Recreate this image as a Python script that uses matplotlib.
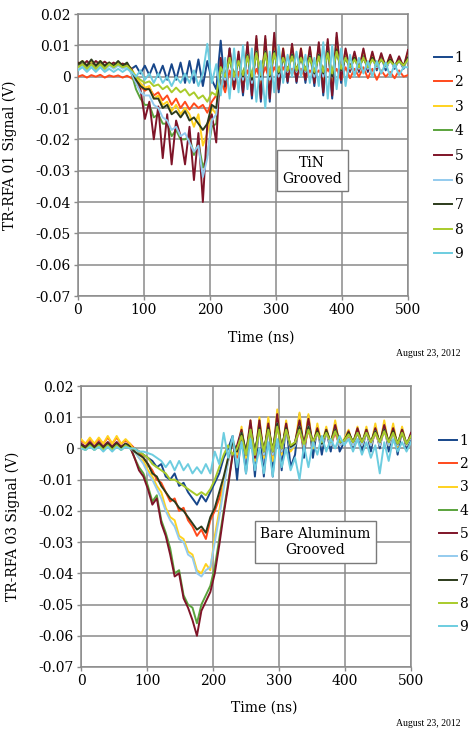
import numpy as np
import matplotlib
matplotlib.use("Agg")
import matplotlib.pyplot as plt

plt.rcParams['font.family'] = ['DejaVu Serif']

# Signals, in mV, evenly spaced over 0-500 ns
series_names = ["1", "2", "3", "4", "5", "6", "7", "8", "9"]
series_colors = ["#17468a", "#ff4a1c", "#ffd21f", "#5aa33c", "#7f1428",
                 "#94cbee", "#2c3b1b", "#a9cb2b", "#6dcde0"]

# TiN grooved (TR-RFA 01)
tin_1 = [3, 4.5, 3, 5, 3, 4.5, 3, 4.5, 3, 4, 3, 4,
         2.5, 3.5, 1, 3.5, 0.5, 4, 0, 3.5, -1, 4, -1, 4.5, -2, 5, -2, 5.5, -3, 5, -1, -4,
         11.5, -4, 9, -3, 7, -6, 10, -7, 12, -8, 12, -8, 12.5, -5, 8, -2, 9.5, -2, 8, -2,
         8.5, -3, 10, -6, 11, -7, 12.5, -2, 8, 1.5, 7, 1.5, 8, 1.5, 7, 2, 6.5, 2, 6, 2.5,
         5.5, 2.5, 7]
tin_2 = [0, 0.5, -0.3, 0.5, 0, 0.6, -0.3, 0.4, 0, 0.4, -0.3, 0.3,
         -0.5, -1.5, -3, -4.5, -3.5, -6, -5, -7.5, -6, -9, -7, -10, -8, -10.5, -8.5, -10,
         -9, -11.5, -8, -6,
         -1, -5, 2, -4, 1.5, -3, 2, -2, 2.5, -1, 3, -1, 3, 0, 3, 0, 2.5, 0, 2.5, -0.5, 2, 0,
         2, -0.5, 2.5, 0, 2.5, -1, 3, -0.5, 2.5, 0, 3, -0.5, 2.5, -1, 2, 0, 1.5, -0.5, 2, 0,
         0.5]
tin_3 = [4, 5, 3.5, 5, 3.5, 5, 3.5, 4.5, 3.5, 4.5, 3.5, 4,
         2.5, 0, -2, -3.5, -3, -7, -6, -9, -8, -11, -9, -12, -10, -12, -16, -12, -22, -18,
         -10, -12,
         4, -2, 8, -3, 7, -3, 10, -4, 12, -5, 12, -5, 12.5, -2, 9, 0, 10, 0, 9, 0, 9, -1,
         10, -3, 11, -4, 12.5, 0, 8.5, 2, 7.5, 2, 8.5, 2.5, 7.5, 2.5, 7, 3, 6.5, 3, 6, 3, 8]
tin_4 = [3, 4, 2.5, 4, 2.5, 4, 2.5, 4, 3, 4, 3, 4,
         1, -4, -7, -9, -9, -13, -12, -15, -15, -19, -17, -20, -20, -19, -25, -21, -29, -25,
         -16, -15,
         2, 0, 6, 0, 5, 0, 7, -1, 8, 0, 8, 0, 8, 1, 6, 2, 7, 2, 6, 2, 7, 1, 7, 1, 8, 0.5, 9,
         2.5, 6, 3, 6, 3, 6.5, 3, 6, 3.5, 6, 3.5, 5.5, 3.5, 5.5, 3.5, 6]
tin_5 = [4.5, 3.5, 5, 3.5, 5, 3.8, 4.8, 3.6, 4.5, 3.5, 4.2, 3.5,
         2.5, -2, -4, -13.5, -8, -20, -9.5, -26, -12, -28, -14, -19, -28, -16, -33, -18, -40,
         -15, -12, -21,
         6, -3, 9, -4, 8, -5, 11, -6, 13, -7, 13, -7, 14, -4, 9, -1.5, 10.5, -1.5, 9, -1,
         9.5, -2, 11, -5, 12, -6, 14, -1, 9, 2, 8, 2, 9, 2, 8, 2.5, 7.5, 3, 7, 3, 6.5, 3, 8.5]
tin_6 = [2.5, 3.5, 2, 3.5, 2, 3.5, 2, 3.5, 2.5, 3.5, 2.5, 3,
         1, -2, -5, -6, -6, -9, -10, -13, -14, -17, -16, -19, -18, -21, -24, -22, -32, -26,
         -14, -12,
         3, -1, 6, -1, 5, -1, 7, -2, 8, -1, 8, -1, 8, 0, 6, 1.5, 7, 1.5, 6, 1.5, 6.5, 0, 7,
         0, 8, 0, 8, 2, 6, 2.5, 5.5, 2.5, 6, 2.5, 5.5, 3, 5.5, 3, 5, 3, 5, 3, 5.5]
tin_7 = [4, 5, 3.5, 5.5, 3.5, 5, 3.5, 4.5, 3.5, 5, 3.5, 4.5,
         2, -1, -3, -4, -4, -7, -7, -10, -9, -12, -11, -13, -11, -14, -13, -15, -17, -15,
         -9, -10,
         3, 0, 6, 0, 5, 0, 7, -1, 8, 0, 8, 0, 8, 1, 6, 2, 7, 2, 6, 2, 6.5, 1, 7, 1, 8, 0,
         8.5, 2, 6, 3, 6, 3, 6, 3, 6, 3.5, 5.5, 3.5, 5.5, 3.5, 5, 3.5, 6]
tin_8 = [3, 4, 2.5, 4, 2.5, 4, 2.5, 4, 3, 4, 3, 3.5,
         2, 0, -1, -2, -1.5, -3, -2.5, -4, -3, -5, -3.5, -5, -4, -6, -5, -7, -6, -8, -5, -6,
         3, 0, 6, 0, 5, 0.5, 6.5, 0, 7.5, 0.5, 7.5, 0.5, 7.5, 1.5, 6, 2, 6.5, 2, 6, 2, 6,
         1.5, 6.5, 1.5, 7.5, 1, 8, 2.5, 6, 3, 5.5, 3, 6, 3, 5.5, 3.5, 5.5, 3.5, 5, 3.5, 5,
         3.5, 5.5]
tin_9 = [2, 3, 1.5, 3, 1.5, 3, 1.5, 2.5, 1.5, 2.5, 1.5, 2.5,
         1.5, 0, 2, -1, 1, -2, 1, -2, 0, -3, 0, -2, 1, -2, 2, -3, 1, 10.5, -2, 4,
         -6, 6, -7, 9, -5, 10, -4, 9, -8, 5, -10, 8, -5, 10, -2, 7, 0, 8, 0, 7, -2, 6, -3,
         11, -7, 10, -4, 9, -3, 7, 0, 6, 1, 5, 0, 5, 1, 4.5, 0, 4, 0.5, 3, 3]

# Bare aluminum grooved (TR-RFA 03)
al_1 = [1.5, 0.5, 2, 0.5, 2, 0.5, 2, 0.5, 2, 0.5, 1.5, 1,
        0, -1, -2, -3, -4, -6, -5, -9, -10, -8, -12, -11, -14, -16, -18, -15, -17, -14,
        -11, -8,
        -3, 0, 4, -10, 6, -8, 8, -9, 9, -9, 9, -9, 11.5, -7, 8, -6, -2, 11, -3, 10.5, -3,
        7, -2, 6, -1, 8, -1, 2, 5, 0, 6, -1, 6, -1, 7, 0, 8, -1, 7, -2, 6, 0, 3]
al_2 = [2.5, 1.5, 3, 1.5, 3, 1.5, 3.5, 1.5, 3.5, 1.5, 2.5, 1.5,
        0, -1, -3, -5, -7, -10, -11, -14, -17, -16, -20, -19, -23, -25, -28, -26, -29, -23,
        -20, -16,
        -11, -4, 2, -3, 5, -2, 6, -2, 6, -1, 6, -1, 7, 0, 6, 0, 1, 6, 0, 6, 1, 5, 1, 5, 1,
        5, 1, 2, 4, 1, 5, 1, 5, 1, 5, 1, 6, 1, 5, 1, 5, 1, 4]
al_3 = [3, 1.5, 3.5, 1.5, 3.5, 1.5, 4, 1.5, 4, 1.5, 3, 1.5,
        -1, -3, -4, -7, -9, -12, -14, -19, -22, -23, -28, -29, -33, -34, -39, -40, -37, -39,
        -28, -20,
        -11, -3, 3, -2, 7, -3, 9, -4, 10, -3, 10, -4, 12.5, -2, 9, -1, 1, 11.5, 0, 11, 0, 8,
        1, 7, 1, 9, 1, 3, 6, 1, 7, 1, 7, 1, 8, 1, 9, 1, 8, 0.5, 7, 1, 4]
al_4 = [1, 0, 1.5, 0, 1.5, 0, 1.5, 0, 1.5, 0.5, 1.5, 0.5,
        -3, -6, -8, -12, -17, -15, -23, -27, -32, -40, -39, -47, -50, -51, -56, -50, -47,
        -44, -38, -29,
        -20, -11, -2, 0, 5, -2, 7, -2, 7, -1, 7, -1, 9, 0, 7, 0, 2, 8, 1, 8, 1.5, 6, 1.5, 6,
        2, 7, 2, 2.5, 5, 2, 6, 2, 6, 2, 6, 2, 7, 2, 6, 1.5, 6, 1.5, 4]
al_5 = [1.5, 0.5, 2, 0.5, 2, 0.5, 2, 0.5, 2, 0.5, 1.5, 0.5,
        -3, -7, -9, -13, -18, -16, -24, -28, -34, -41, -40, -48, -51, -55, -60, -52, -49,
        -46, -40, -31,
        -21, -12, -2, 1, 6, -2, 9, -3, 9, -2, 8, -2, 11, -1, 8, 0, 2, 9, 1, 9.5, 1, 6.5, 1,
        6, 1.5, 7.5, 1.5, 2, 5.5, 1.5, 6.5, 1.5, 6, 1.5, 6.5, 1.5, 7.5, 1.5, 6.5, 1, 6, 1, 5]
al_6 = [0.5, -0.5, 1, -0.5, 1, -0.5, 1, -0.5, 1, -0.5, 1, 0,
        -1, -3, -5, -8, -10, -13, -16, -20, -23, -25, -29, -30, -34, -35, -40, -41, -39, -38,
        -30, -22,
        -13, -4, 2, -1, 5, -2, 6, -2, 6, -2, 6, -2, 8, -1, 6, 0, 1, 7, 0.5, 7, 1, 5, 1, 5, 1,
        6, 1, 2, 4.5, 1, 5, 1, 5, 1, 5.5, 1, 6, 1, 5, 1, 5, 1, 3.5]
al_7 = [1, 0, 1.5, 0, 1.5, 0, 1.5, 0, 1.5, 0, 1.5, 0.5,
        -1, -2, -3, -5, -8, -9, -12, -14, -16, -17, -19, -20, -22, -24, -26, -25, -27, -22,
        -19, -14,
        -9, -3, 2, -1, 5, -1, 6, -1, 6.5, -1, 6.5, -1, 8, 0, 6.5, 0.5, 1.5, 7, 1, 7, 1.5, 5.5,
        1.5, 5.5, 2, 6, 2, 2.5, 5, 2, 5, 2, 5, 2, 5.5, 2, 6, 2, 5.5, 1.5, 5, 1.5, 4]
al_8 = [0.5, -0.5, 1, -0.5, 1, -0.5, 1, -0.5, 1, -0.5, 1, 0,
        0, -1, -2, -3, -5, -6, -7, -8, -10, -10, -11, -12, -13, -14, -15, -14, -15, -13,
        -10, -6,
        -2, 1, -2, 0, 4, -2, 6, -2, 6, -1, 6, -1, 7, 0, 6, 1, 2, 6, 1, 6, 2, 5, 2, 5, 2,
        5.5, 2, 2.5, 4.5, 2, 5, 2, 5, 2, 5, 2, 5.5, 2, 5, 1.5, 5, 1.5, 4]
al_9 = [0, -0.5, 0.5, -0.5, 0.5, -1, 0.5, -1, 0.5, -0.5, 0.5, 0,
        0, -1, -1, -1.5, -2, -3, -4, -6, -4, -7, -4, -7, -5, -8, -6, -8, -5, -8, -1, -5,
        5, -3, 4, -6, 2, -8, 3, -7, 0, -8, 2, -9, 3, -6, 0, -7, -3, -10, 1, -6, 2, -2, 4,
        -1, 3, 0, 4, 1, 3, -1, 3, -2, 2, -3, 1, -8, 2, -4, 3, -1, 2, -1, 2]

y_ticks = [-0.07, -0.06, -0.05, -0.04, -0.03, -0.02, -0.01, 0, 0.01, 0.02]
y_tick_labels = ["-0.07", "-0.06", "-0.05", "-0.04", "-0.03", "-0.02", "-0.01", "0",
                 "0.01", "0.02"]
x_ticks = [0, 100, 200, 300, 400, 500]


def draw_panel(ax, traces, ylabel, box_text, legend_anchor, legend_spacing):
    for name, color, mv in zip(series_names, series_colors, traces):
        t = np.linspace(0, 500, len(mv))
        ax.plot(t, np.array(mv) / 1000.0, color=color, lw=1.4, label=name, zorder=3)

    ax.set_xlim(0, 500)
    ax.set_ylim(-0.07, 0.02)
    ax.set_xticks(x_ticks)
    ax.set_yticks(y_ticks)
    ax.set_yticklabels(y_tick_labels)
    ax.tick_params(labelsize=10, length=3, width=1, color="#8a8a8a", pad=2)
    ax.grid(True, color="#8a8a8a", lw=1.1)
    ax.set_axisbelow(True)
    for sp in ax.spines.values():
        sp.set_color("#8a8a8a")
        sp.set_linewidth(1.1)

    ax.set_ylabel(ylabel, fontsize=10)
    ax.yaxis.set_label_coords(-0.185, 0.5)
    ax.set_xlabel("Time (ns)", fontsize=10)
    ax.xaxis.label.set_va("center")
    ax.xaxis.set_label_coords(0.554, -0.146)

    ax.text(355, -0.030, box_text, ha="center", va="center", fontsize=10,
            multialignment="center", zorder=5,
            bbox=dict(boxstyle="square,pad=0.4", fc="white", ec="#7a7a7a", lw=1))

    ax.legend(loc="upper left", bbox_to_anchor=legend_anchor, frameon=False,
              fontsize=10, handlelength=1.25, handletextpad=0.2,
              labelspacing=legend_spacing, borderpad=0, borderaxespad=0)


fig = plt.figure(figsize=(4.70, 7.29), dpi=100)
ax_top = fig.add_axes([78 / 470, 1 - 296 / 729, 330 / 470, 282 / 729])
ax_bot = fig.add_axes([81 / 470, 1 - 667 / 729, 330 / 470, 281 / 729])

draw_panel(ax_top, [tin_1, tin_2, tin_3, tin_4, tin_5, tin_6, tin_7, tin_8, tin_9],
           "TR-RFA 01 Signal (V)", "TiN\nGrooved", (1.08, 0.87), 0.76)
draw_panel(ax_bot, [al_1, al_2, al_3, al_4, al_5, al_6, al_7, al_8, al_9],
           "TR-RFA 03 Signal (V)", "Bare Aluminum\nGrooved", (1.086, 0.83), 0.67)

date_font = ['Liberation Serif', 'DejaVu Serif']
fig.text(396 / 470, 1 - 353 / 729, "August 23, 2012", fontsize=7, family=date_font,
         ha="left", va="center")
fig.text(396 / 470, 1 - 723 / 729, "August 23, 2012", fontsize=7, family=date_font,
         ha="left", va="center")

fig.savefig("out.png", dpi=100)
